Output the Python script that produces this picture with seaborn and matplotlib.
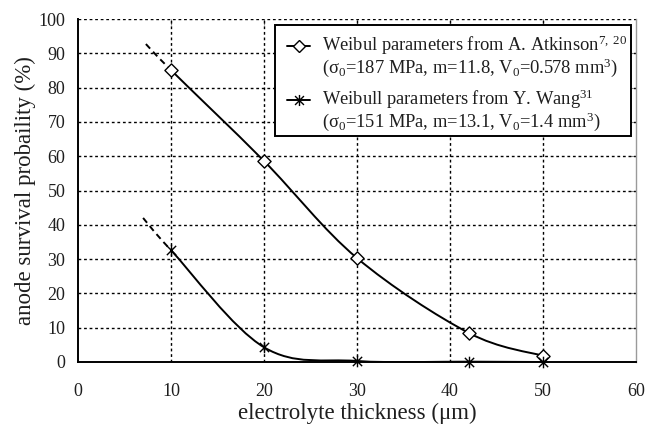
import numpy as np
import matplotlib
matplotlib.use("Agg")
import matplotlib.pyplot as plt
from matplotlib.path import Path
from matplotlib.patches import PathPatch, Rectangle
from matplotlib.lines import Line2D
import seaborn as sns

# electrolyte thickness (um) of the computed cases
thickness = [10, 20, 30, 42, 50]
# survival probability (%) for the two sets of Weibull parameters
atkinson = [85.1, 58.6, 30.3, 8.5, 1.8]
wang = [32.6, 4.3, 0.3, 0.1, 0.0]
# start of the dashed extrapolation towards thinner electrolytes
atkinson_lead = (7.3, 92.7)
wang_lead = (7.0, 42.0)

x_ticks = [0, 10, 20, 30, 40, 50, 60]
y_ticks = [0, 10, 20, 30, 40, 50, 60, 70, 80, 90, 100]

label_atk = ["Weibul parameters from A. Atkinson${}^{7,\\ 20}$",
             "(σ${}_0$=187 MPa, m=11.8, V${}_0$=0.578 mm${}^3$)"]
label_wang = ["Weibull parameters from Y. Wang${}^{31}$",
              "(σ${}_0$=151 MPa, m=13.1, V${}_0$=1.4 mm${}^3$)"]

sns.set_theme(style="white")
plt.rcParams["font.family"] = ["Liberation Serif", "DejaVu Serif"]
plt.rcParams["mathtext.fontset"] = "custom"
plt.rcParams["mathtext.rm"] = "Liberation Serif"
plt.rcParams["mathtext.it"] = "Liberation Serif:italic"
plt.rcParams["mathtext.bf"] = "Liberation Serif:bold"

INK = "#1e1e1e"

# asterisk marker: an X crossed by a vertical bar
star = Path([(-1, -1), (1, 1), (-1, 1), (1, -1), (0, -1.25), (0, 1.25)],
            [Path.MOVETO, Path.LINETO, Path.MOVETO, Path.LINETO,
             Path.MOVETO, Path.LINETO])


def bezier_segments(xs, ys):
    """Cardinal-spline (smoothed line) segments through the points."""
    pts = np.column_stack([xs, ys]).astype(float)
    n = len(pts)
    segs = []
    for i in range(n - 1):
        p0 = pts[i - 1] if i > 0 else pts[i]
        p1, p2 = pts[i], pts[i + 1]
        p3 = pts[i + 2] if i + 2 < n else pts[i + 1]
        segs.append([p1, p1 + (p2 - p0) / 6, p2 - (p3 - p1) / 6, p2])
    return segs


def seg_path(segs):
    verts, codes = [], []
    for k, s in enumerate(segs):
        if k == 0:
            verts.append(s[0])
            codes.append(Path.MOVETO)
        verts += [s[1], s[2], s[3]]
        codes += [Path.CURVE4] * 3
    return Path(verts, codes)


W, H = 657, 426
AX_L, AX_R, AX_T, AX_B = 78, 636, 19, 362
fig = plt.figure(figsize=(W / 100, H / 100), dpi=100)
ax = fig.add_axes([AX_L / W, 1 - AX_B / H, (AX_R - AX_L) / W,
                   (AX_B - AX_T) / H])


def to_axes(px, py):
    return ((px - AX_L) / (AX_R - AX_L), (AX_B - py) / (AX_B - AX_T))


for lead, vals in ((atkinson_lead, atkinson), (wang_lead, wang)):
    segs = bezier_segments([lead[0]] + thickness, [lead[1]] + vals)
    ax.add_patch(PathPatch(seg_path(segs[:1]), fill=False, ec="black",
                           lw=1.4, ls=(0, (3.2, 2.2)), zorder=3))
    ax.add_patch(PathPatch(seg_path(segs[1:]), fill=False, ec="black",
                           lw=1.4, zorder=3))

sns.scatterplot(x=thickness, y=atkinson, ax=ax, marker="D", s=45,
                facecolor="white", edgecolor="black", linewidth=1.0,
                zorder=5, clip_on=False)
sns.scatterplot(x=thickness, y=wang, ax=ax, marker=star, s=70,
                facecolor="black", edgecolor="black", linewidth=1.0,
                zorder=5, clip_on=False)

ax.set_xlim(0, 60)
ax.set_ylim(0, 100)
ax.set_xticks(x_ticks)
ax.set_yticks(y_ticks)
ax.grid(True, color="black", lw=1.0, ls=(0, (2, 2)), zorder=1)
ax.get_xgridlines()[-1].set_visible(False)
ax.get_xgridlines()[0].set_visible(False)
ax.get_ygridlines()[0].set_visible(False)
ax.set_axisbelow(True)

for side in ("left", "bottom"):
    ax.spines[side].set_color("black")
    ax.spines[side].set_linewidth(1.4)
ax.spines["top"].set_visible(False)
ax.spines["right"].set_color("#9a9a9a")
ax.spines["right"].set_linewidth(1.0)

ax.tick_params(axis="both", direction="out", length=6, width=1.2,
               color="black", labelsize=13, labelcolor=INK)
ax.tick_params(axis="x", pad=9)
ax.tick_params(axis="y", pad=3)

# small inward marks on the upper and right frame
top = ax.secondary_xaxis("top")
top.set_xticks(x_ticks[1:-1])
top.tick_params(direction="in", length=4, width=0.8, color="#888888",
                labeltop=False)
top.spines["top"].set_visible(False)
right = ax.secondary_yaxis("right")
right.set_yticks(y_ticks[1:-1])
right.tick_params(direction="in", length=4, width=0.8, color="#888888",
                  labelright=False)
right.spines["right"].set_visible(False)

ax.set_xlabel("electrolyte thickness (μm)", fontsize=16.5, labelpad=2.5,
              color=INK)
ax.set_ylabel("anode survival probaility (%)", fontsize=16.5, labelpad=2,
              color=INK)

# legend box with handles on the first line of each two-line entry
x0, y0 = to_axes(275, 136)
x1, y1 = to_axes(631, 25)
ax.add_patch(Rectangle((x0, y0), x1 - x0, y1 - y0, transform=ax.transAxes,
                       facecolor="white", edgecolor="black", lw=1.4,
                       zorder=10, clip_on=False))
text_x = to_axes(322, 0)[0]
lines = [(label_atk[0], 46), (label_atk[1], 68),
         (label_wang[0], 100), (label_wang[1], 122)]
for txt, cy in lines:
    ax.text(text_x, to_axes(0, cy + 4.5)[1], txt, transform=ax.transAxes,
            fontsize=13.3, color=INK, ha="left", va="baseline", zorder=11)

hx0, hx1, hm = to_axes(287, 0)[0], to_axes(310, 0)[0], to_axes(298.5, 0)[0]
for cy, mk, ms in ((46, "D", 6), (100, star, 8)):
    hy = to_axes(0, cy)[1]
    ax.add_line(Line2D([hx0, hx1], [hy, hy], transform=ax.transAxes,
                       color="black", lw=1.4, zorder=11, clip_on=False))
    ax.add_line(Line2D([hm], [hy], transform=ax.transAxes, marker=mk,
                       markersize=ms, markerfacecolor="white",
                       markeredgecolor="black", markeredgewidth=1.0,
                       linestyle="none", zorder=12, clip_on=False))

fig.savefig("out.png", dpi=100, facecolor="white")
